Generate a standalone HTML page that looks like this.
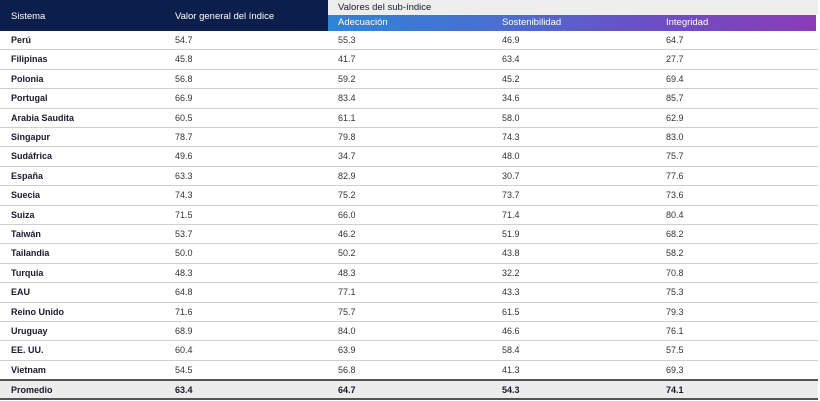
<!DOCTYPE html>
<html><head><meta charset="utf-8"><style>
body{margin:0;width:820px;height:401px;background:#fff;font-family:"Liberation Sans",sans-serif;font-size:9px;color:#333;overflow:hidden;position:relative}
.hd{position:absolute;left:0;top:0;width:328px;height:31px;background:#0c1f4a}
.hd span{position:absolute;top:11px;color:#fff;font-size:9.5px}
.top{position:absolute;left:328px;top:0;width:490px;height:15px;background:#eeeeee}
.top span{position:absolute;left:10px;top:2px;color:#1a1a3a;font-size:9.5px}
.grad{position:absolute;left:328px;top:15px;width:488px;height:16px;background:linear-gradient(90deg,#2e84d6 0%,#4a6fcf 35%,#6b4fc4 65%,#8a3db8 100%)}
.grad span{position:absolute;top:2px;color:#fff;font-size:9.5px}
.row{position:absolute;left:0;width:818px;height:19.4px;border-bottom:1px solid #cfcfcf;box-sizing:border-box}
.row span{position:absolute;top:4px}
.row b{position:absolute;top:4px;left:11px;color:#1a1a2a}
.avg{background:#ececec;border-top:2px solid #555;border-bottom:2px solid #555;font-weight:bold;color:#1a1a2a}
</style></head><body>
<div class="hd"><span style="left:11px">Sistema</span><span style="left:175px">Valor general del índice</span></div>
<div class="top"><span>Valores del sub-índice</span></div>
<div class="grad"><span style="left:10px">Adecuación</span><span style="left:174px">Sostenibilidad</span><span style="left:338px">Integridad</span></div>
<div id="t"></div>
<script>
var d=[["Perú","54.7","55.3","46.9","64.7"],["Filipinas","45.8","41.7","63.4","27.7"],["Polonia","56.8","59.2","45.2","69.4"],["Portugal","66.9","83.4","34.6","85.7"],["Arabia Saudita","60.5","61.1","58.0","62.9"],["Singapur","78.7","79.8","74.3","83.0"],["Sudáfrica","49.6","34.7","48.0","75.7"],["España","63.3","82.9","30.7","77.6"],["Suecia","74.3","75.2","73.7","73.6"],["Suiza","71.5","66.0","71.4","80.4"],["Taiwán","53.7","46.2","51.9","68.2"],["Tailandia","50.0","50.2","43.8","58.2"],["Turquía","48.3","48.3","32.2","70.8"],["EAU","64.8","77.1","43.3","75.3"],["Reino Unido","71.6","75.7","61.5","79.3"],["Uruguay","68.9","84.0","46.6","76.1"],["EE. UU.","60.4","63.9","58.4","57.5"],["Vietnam","54.5","56.8","41.3","69.3"],["Promedio","63.4","64.7","54.3","74.1"]];
var h="";var xs=[175,338,502,666];
d.forEach(function(r,i){var top=31+i*19.4;var avg=i==18;
h+='<div class="row'+(avg?' avg':'')+'" style="top:'+(avg?top-1:top)+'px'+(avg?';height:21px':'')+'"><b>'+r[0]+'</b>';
for(var j=0;j<4;j++)h+='<span style="left:'+xs[j]+'px">'+r[j+1]+'</span>';h+='</div>';});
document.getElementById('t').innerHTML=h;
</script>
</body></html>
